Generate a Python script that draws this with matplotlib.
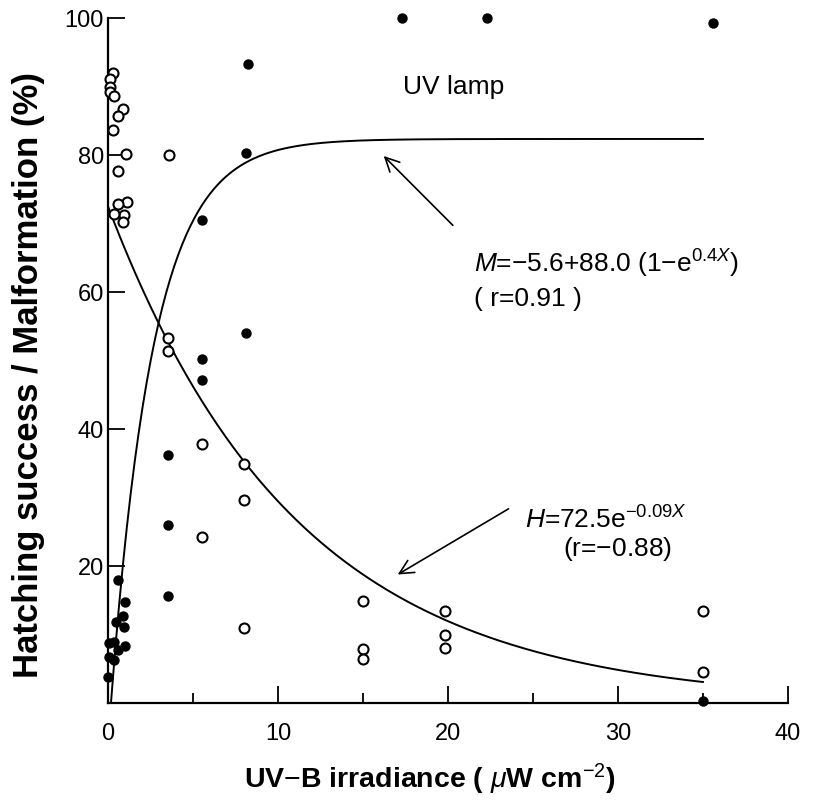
import numpy as np
import matplotlib.pyplot as plt

plt.rcParams['font.family'] = ['Liberation Sans', 'DejaVu Sans']
plt.rcParams['mathtext.fontset'] = 'custom'
plt.rcParams['mathtext.rm'] = 'Liberation Sans'
plt.rcParams['mathtext.it'] = 'Liberation Sans:italic'
plt.rcParams['mathtext.bf'] = 'Liberation Sans:bold'

# hatching success (open circles)
hatch_x = [0.26, 0.1, 0.13, 0.1, 0.34, 0.88, 0.55, 0.27, 1.07, 0.6, 1.1, 0.56, 0.92, 0.88, 0.35,
           3.6, 3.5, 3.5, 5.5, 5.5, 8.0, 8.0, 8.0, 15.0, 15.0, 15.0, 19.8, 19.8, 19.8, 35.0, 35.0]
hatch_y = [92.1, 91.1, 90.0, 89.3, 88.6, 86.8, 85.8, 83.7, 80.2, 77.7, 73.2, 72.9, 71.3, 70.3, 71.5,
           80.0, 53.3, 51.4, 37.9, 24.3, 35.0, 29.7, 11.0, 15.0, 7.9, 6.5, 13.5, 10.0, 8.1, 13.5, 4.6]

# malformation (filled circles)
malf_x = [17.3, 22.3, 35.6, 8.2, 8.1, 5.5, 8.1, 5.5, 5.5, 3.55, 3.5, 3.5,
          0.55, 1.0, 0.9, 0.45, 0.93, 0.07, 0.35, 0.98, 0.6, 0.07, 0.36, 0.0, 35.0]
malf_y = [100, 100, 99.3, 93.4, 80.4, 70.5, 54.1, 50.2, 47.2, 36.2, 26.0, 15.7,
          18.0, 14.8, 12.8, 11.9, 11.1, 8.8, 9.0, 8.3, 7.8, 6.8, 6.3, 3.8, 0.3]

x_ticks = [0, 10, 20, 30, 40]
y_ticks = [20, 40, 60, 80, 100]


def hatch_fit(x):
    return 72.5 * np.exp(-0.09 * x)


def malf_fit(x):
    return -5.6 + 88.0 * (1 - np.exp(-0.4 * x))


fig = plt.figure(figsize=(8.32, 8.01), dpi=100)
ax = fig.add_axes([0.13, 0.122, 0.817, 0.855])

xh = np.linspace(0, 35, 300)
ax.plot(xh, hatch_fit(xh), color='black', lw=1.4)
xm = np.linspace(0.164, 35, 300)
ax.plot(xm, malf_fit(xm), color='black', lw=1.4)

ax.scatter(hatch_x, hatch_y, s=52, facecolor='white', edgecolor='black',
           linewidths=1.5, zorder=3, clip_on=False)
ax.scatter(malf_x, malf_y, s=42, color='black', zorder=4, clip_on=False)

ax.set_xlim(0, 40)
ax.set_ylim(0, 100)
ax.set_xticks(x_ticks)
ax.set_xticks([5, 15, 25, 35], minor=True)
ax.set_yticks(y_ticks)
ax.tick_params(direction='in', length=12, width=1.3, labelsize=17)
ax.tick_params(axis='y', pad=3)
ax.tick_params(axis='x', pad=14)
ax.tick_params(which='minor', direction='in', length=7, width=1.3)
for s in ['top', 'right']:
    ax.spines[s].set_visible(False)
for s in ['left', 'bottom']:
    ax.spines[s].set_linewidth(1.6)

ax.set_xlabel(r'UV$-$B irradiance ( $\mu$W cm$^{-2}$)', fontsize=20.5, fontweight='bold')
ax.set_ylabel('Hatching success / Malformation (%)', fontsize=25, fontweight='bold')
ax.xaxis.set_label_coords(0.473, -0.085)
ax.yaxis.set_label_coords(-0.093, 0.48)

ax.text(20.3, 90.0, 'UV lamp', fontsize=19, ha='center', va='center')

ax.text(21.5, 64.2, r'$\mathit{M}$=$-$5.6+88.0 (1$-$e$^{0.4\mathit{X}}$)', fontsize=19, va='center')
ax.text(21.5, 59.0, '( r=0.91 )', fontsize=19, va='center')
ax.annotate('', xy=(16.1, 80.2), xytext=(20.4, 69.5),
            arrowprops=dict(arrowstyle='->', lw=1.2, color='black', mutation_scale=25))

ax.text(24.5, 26.8, r'$\mathit{H}$=72.5e$^{-0.09\mathit{X}}$', fontsize=19, va='center')
ax.text(30.0, 22.6, '(r=$-$0.88)', fontsize=19, ha='center', va='center')
ax.annotate('', xy=(16.9, 18.6), xytext=(23.7, 28.6),
            arrowprops=dict(arrowstyle='->', lw=1.2, color='black', mutation_scale=25))

fig.savefig('out.png', dpi=100)
